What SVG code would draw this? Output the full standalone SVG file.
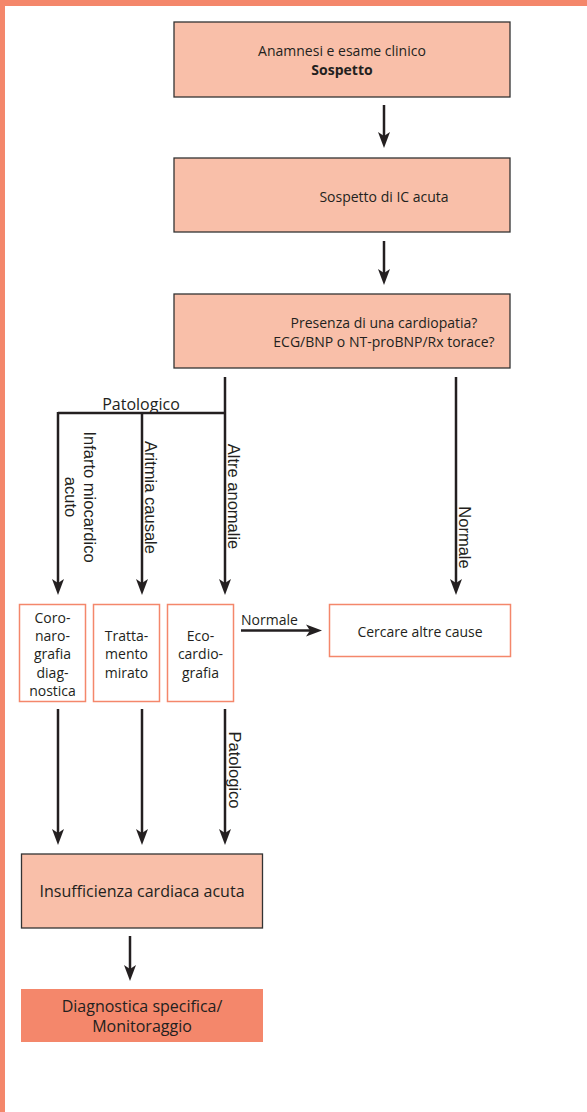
<svg xmlns="http://www.w3.org/2000/svg" width="587" height="1112" viewBox="0 0 587 1112">
<defs>
<marker id="ah" markerUnits="userSpaceOnUse" markerWidth="18" markerHeight="14" viewBox="0 -7 18 14" refX="4" refY="0" orient="auto">
<path d="M0,-6 L16,0 L0,6 L4,0 z" fill="#231F20"/>
</marker>
<style>
.box{fill:#F9BFA9;stroke:#333;stroke-width:1.3}
.obox{fill:#fff;stroke:#F4876B;stroke-width:1.5}
.dbox{fill:#F4876B}
.t{font-family:"Open Sans","Noto Sans",sans-serif;font-size:14px;fill:#231F20;text-anchor:middle}
.big{font-size:16px}
.b{font-weight:bold}
.r{font-family:"Liberation Sans",Arial,sans-serif;font-size:16.5px;fill:#231F20;text-anchor:middle}
.c{stroke:#231F20;stroke-width:2.5;fill:none}
.ca{stroke:#231F20;stroke-width:2.5;fill:none;marker-end:url(#ah)}
</style>
</defs>
<rect x="0" y="0" width="587" height="1112" fill="#fff"/>
<rect x="0" y="0" width="587" height="6" fill="#F4876B"/>
<rect x="0" y="0" width="5" height="1112" fill="#F4876B"/>

<g id="n1"><rect class="box" x="174" y="22" width="336" height="75"/>
<text class="t" x="342" y="56">Anamnesi e esame clinico</text>
<text class="t b" x="342" y="75">Sospetto</text></g>
<g id="n2"><rect class="box" x="174" y="158" width="336" height="74"/>
<text class="t" x="384" y="202">Sospetto di IC acuta</text></g>
<g id="n3"><rect class="box" x="174" y="294" width="336" height="74"/>
<text class="t" x="384" y="328">Presenza di una cardiopatia?</text>
<text class="t" x="384" y="347">ECG/BNP o NT-proBNP/Rx torace?</text></g>

<g id="n4"><rect class="obox" x="19.5" y="604.5" width="66" height="97"/>
<text class="t" x="52.5" y="623">Coro-</text>
<text class="t" x="52.5" y="641">naro-</text>
<text class="t" x="52.5" y="659">grafia</text>
<text class="t" x="52.5" y="677.5">diag-</text>
<text class="t" x="52.5" y="696">nostica</text></g>
<g id="n5"><rect class="obox" x="93.5" y="604.5" width="66" height="97"/>
<text class="t" x="126.5" y="641">Tratta-</text>
<text class="t" x="126.5" y="659">mento</text>
<text class="t" x="126.5" y="677.5">mirato</text></g>
<g id="n6"><rect class="obox" x="167.5" y="604.5" width="66" height="97"/>
<text class="t" x="200.5" y="641">Eco-</text>
<text class="t" x="200.5" y="659">cardio-</text>
<text class="t" x="200.5" y="677.5">grafia</text></g>
<g id="n7"><rect class="obox" x="329.5" y="604.5" width="181" height="52"/>
<text class="t" x="420" y="637">Cercare altre cause</text></g>

<g id="n8"><rect class="box" x="21.5" y="854" width="241" height="74"/>
<text class="t big" x="142" y="897">Insufficienza cardiaca acuta</text></g>
<g id="n9"><rect class="dbox" x="21" y="989" width="242" height="53"/>
<text class="t big" x="142" y="1012">Diagnostica specifica/</text>
<text class="t big" x="142" y="1032">Monitoraggio</text></g>

<g id="connectors">
<line class="ca" x1="384" y1="105" x2="384" y2="136"/>
<line class="ca" x1="384" y1="241" x2="384" y2="273"/>
<line class="ca" x1="225" y1="377" x2="225" y2="583"/>
<polyline class="c" points="225,413 58,413"/>
<line class="ca" x1="58" y1="412" x2="58" y2="583"/>
<line class="ca" x1="142" y1="413" x2="142" y2="583"/>
<line class="ca" x1="456" y1="377" x2="456" y2="583"/>
<line class="ca" x1="241" y1="630.5" x2="310" y2="630.5"/>
<line class="ca" x1="58" y1="709" x2="58" y2="833"/>
<line class="ca" x1="142" y1="709" x2="142" y2="833"/>
<line class="ca" x1="225" y1="709" x2="225" y2="833"/>
<line class="ca" x1="130" y1="936" x2="130" y2="969"/>
<text class="t" x="141" y="410" style="font-size:16px">Patologico</text>
<text class="t" x="241" y="625" style="text-anchor:start">Normale</text>
<text class="r" transform="translate(84,497) rotate(90)">Infarto miocardico</text>
<text class="r" transform="translate(65,497) rotate(90)">acuto</text>
<text class="r" transform="translate(145,497.5) rotate(90)">Aritmia causale</text>
<text class="r" transform="translate(228,496.5) rotate(90)">Altre anomalie</text>
<text class="r" transform="translate(459,537.5) rotate(90)">Normale</text>
<text class="r" transform="translate(229,770) rotate(90)">Patologico</text>
</g>
</svg>
